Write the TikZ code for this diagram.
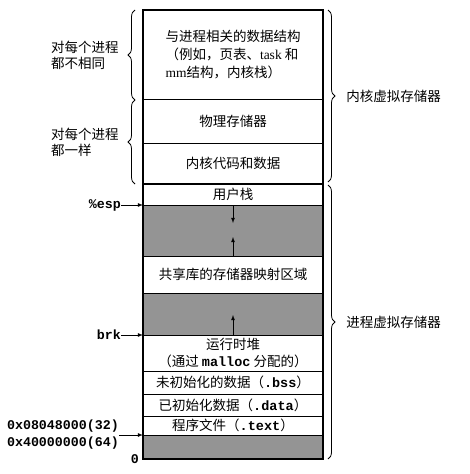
\documentclass[tikz,border=0pt]{standalone}
\usepackage{fontspec}
\setmainfont{Noto Sans CJK SC}
\newfontfamily\latinrm{Liberation Serif}
\setmonofont{Liberation Mono}
\newcommand\codetext[1]{{\ttfamily\bfseries #1}}
\usetikzlibrary{positioning,decorations.pathreplacing,arrows}

\begin{document}
\begin{tikzpicture}[x=1pt, y=-1pt, >=latex,
    region/.style={draw, line width=1pt, minimum width=180pt, inner sep=0pt, outer sep=0pt, align=center, font=\fontsize{13.5}{17}\selectfont},
    shaded/.style={region, fill=black!42},
    addr/.style={inner sep=0pt, font=\ttfamily\bfseries\fontsize{13.3}{17}\selectfont},
    side/.style={inner sep=0pt, align=left, font=\fontsize{13.5}{16}\selectfont},
    bracel/.style={decorate, decoration={brace, amplitude=7pt}, line width=0.8pt},
    growarrow/.style={->, line width=0.8pt}]
  \useasboundingbox (0,0) rectangle (469,474);

  % kernel virtual memory
  \node (kstruct) [region, minimum height=89pt, align=left, font=\fontsize{13.5}{18}\selectfont] at (233,54.5) {与进程相关的数据结构\\（例如，页表、{\latinrm task} 和\\{\latinrm mm}结构，内核栈）};
  \node (phys)  [region, minimum height=44pt, below=0pt of kstruct] {物理存储器};
  \node (kcode) [region, minimum height=41pt, below=0pt of phys] {内核代码和数据};

  % process virtual memory
  \node (ustack) [region, minimum height=21pt, below=0pt of kcode] {用户栈};
  \node (gap1)   [shaded, minimum height=51pt, below=0pt of ustack] {};
  \node (shlib)  [region, minimum height=37pt, below=0pt of gap1] {共享库的存储器映射区域};
  \node (gap2)   [shaded, minimum height=42pt, below=0pt of shlib] {};
  \node (heap)   [region, minimum height=36pt, below=0pt of gap2] {运行时堆\\（通过 \codetext{malloc} 分配的）};
  \node (bss)    [region, minimum height=23pt, below=0pt of heap] {未初始化的数据（\codetext{.bss}）};
  \node (data)   [region, minimum height=22pt, below=0pt of bss] {已初始化数据（\codetext{.data}）};
  \node (text)   [region, minimum height=19pt, below=0pt of data] {程序文件（\codetext{.text}）};
  \node (gap3)   [shaded, minimum height=24pt, below=0pt of text] {};

  \draw[line width=2.2pt] (kcode.south west) -- (kcode.south east);
  \draw[line width=1.4pt] (kstruct.north west) rectangle (gap3.south east);

  % growth arrows
  \coordinate (stackgrow) at ([yshift=-18pt]ustack.south);
  \coordinate (mmapgrow) at ([yshift=19pt]gap1.south);
  \coordinate (heapgrow) at ([yshift=20pt]heap.north);
  \draw[growarrow] (ustack.south) -- (stackgrow);
  \draw[growarrow] (gap1.south) -- (mmapgrow);
  \draw[growarrow] (heap.north) -- (heapgrow);

  % pointers on the left
  \node (esp)  [addr, left=22pt of ustack.south west] {\%esp};
  \node (brk)  [addr, left=22pt of heap.north west] {brk};
  \node (addr) [addr, align=left, left=24pt of text.south west] {0x08048000(32)\\0x40000000(64)};
  \node (zero) [addr, left=4pt of gap3.south west] {0};
  \draw[->, line width=0.8pt] (esp) -- (ustack.south west);
  \draw[->, line width=0.8pt] (brk) -- (heap.north west);
  \draw[->, line width=0.8pt] (addr.east |- text.south west) -- (text.south west);

  % braces
  \draw[bracel] ([xshift=-8pt,yshift=-1pt]kstruct.south west) -- ([xshift=-8pt]kstruct.north west)
    node (diff) [side, midway, left=16pt] {对每个进程\\都不相同};
  \draw[bracel] ([xshift=-8pt]kcode.south west) -- ([xshift=-8pt,yshift=-1pt]phys.north west)
    node (same) [side, midway, left=16pt] {对每个进程\\都一样};
  \draw[bracel] ([xshift=5pt]kstruct.north east) -- ([xshift=5pt,yshift=2pt]kcode.south east)
    node (kvm) [side, midway, right=18pt] {内核虚拟存储器};
  \draw[bracel] ([xshift=5pt,yshift=-1pt]ustack.north east) -- ([xshift=5pt]gap3.south east)
    node (pvm) [side, midway, right=18pt] {进程虚拟存储器};
\end{tikzpicture}
\end{document}
